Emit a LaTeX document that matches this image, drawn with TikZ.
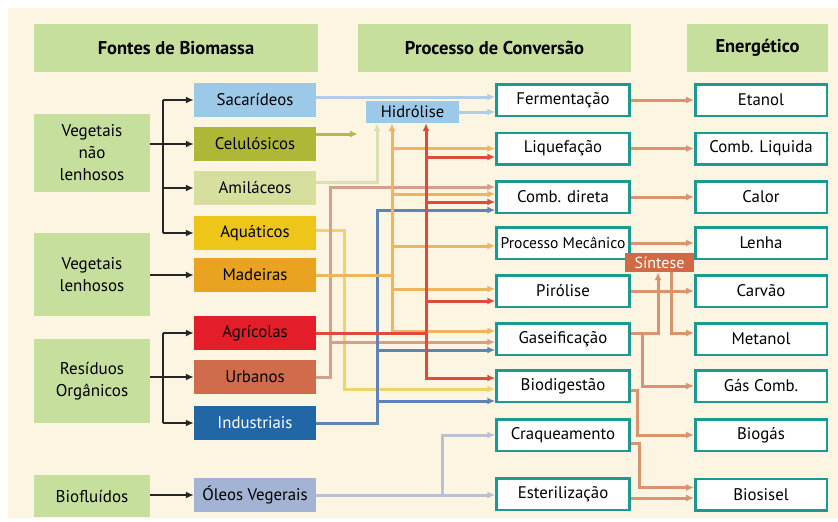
\documentclass[tikz,border=0pt]{standalone}
\usepackage{fontspec}
\setmainfont{PT Sans}
\usetikzlibrary{arrows.meta,positioning}
% box fills
\definecolor{bgCream}{HTML}{FBF5E2}
\definecolor{headGreen}{HTML}{C6DF9C}
\definecolor{tealB}{HTML}{1B9A94}
\definecolor{sacC}{HTML}{9DC9E9}
\definecolor{celC}{HTML}{AEB836}
\definecolor{amiC}{HTML}{D7DF9E}
\definecolor{aquC}{HTML}{EEC519}
\definecolor{madC}{HTML}{EAA321}
\definecolor{agrC}{HTML}{E31E2A}
\definecolor{urbC}{HTML}{D06C4B}
\definecolor{indC}{HTML}{2167A6}
\definecolor{oleC}{HTML}{A3B3D3}
\definecolor{sinC}{HTML}{D06A45}
% connector colours
\definecolor{sacL}{HTML}{AFCDE6}
\definecolor{celL}{HTML}{B5BA4E}
\definecolor{amiL}{HTML}{DEDFB0}
\definecolor{aquL}{HTML}{F1D36E}
\definecolor{madL}{HTML}{EDB561}
\definecolor{agrL}{HTML}{DE4A3E}
\definecolor{urbL}{HTML}{D4A08A}
\definecolor{indL}{HTML}{5F83B6}
\definecolor{oleL}{HTML}{BAC0D6}
\definecolor{conL}{HTML}{D9936F}
\newcommand{\boxfont}{\fontsize{16.8}{19}\selectfont}
\tikzset{
  head/.style={fill=headGreen, minimum height=48pt, inner sep=0pt,
    font=\bfseries\fontsize{18.5}{21}\selectfont},
  group/.style={fill=headGreen, minimum width=116pt, inner sep=0pt,
    align=center, font=\fontsize{17}{22}\selectfont},
  srcbox/.style={minimum width=122pt, minimum height=34pt, inner sep=0pt,
    font=\boxfont},
  convbox/.style={draw=tealB, line width=2.5pt, fill=white,
    minimum width=133pt, minimum height=31.5pt, inner sep=0pt, font=\boxfont},
  link/.style={line width=3pt, -{Latex[length=8pt,width=7pt]}},
  plain/.style={line width=3pt},
  twoway/.style={line width=3pt, {Latex[length=8pt,width=7pt]}-{Latex[length=8pt,width=7pt]}},
  blk/.style={line width=2.8pt, black!85, -{Latex[length=8pt,width=7pt]}},
}

\begin{document}
\begin{tikzpicture}[x=1pt,y=-1pt]
  \useasboundingbox (0,0) rectangle (838,522);
  \fill[bgCream] (8,8) rectangle (838,518);
  % column headers
  \node[head, minimum width=284pt] (hFontes) at (176,48) {Fontes de Biomassa};
  \node[head, minimum width=273pt] (hProc) at (494.5,48) {Processo de Conversão};
  \node[head, minimum width=141pt] (hEner) at (757.5,48) {Energético};
  % biomass groups
  \node[group, minimum height=78pt] (vnl) at (92,153) {Vegetais\\não\\lenhosos};
  \node[group, minimum height=83pt] (vl) at (92,274.5) {Vegetais\\lenhosos};
  \node[group, minimum height=84pt] (res) at (92,381) {Resíduos\\Orgânicos};
  \node[group, minimum height=42pt] (bfl) at (92,496) {Biofluídos};
  % sources
  \node[srcbox, fill=sacC] (sac) at (255,100) {Sacarídeos};
  \node[srcbox, fill=celC] (cel) at (255,144) {Celulósicos};
  \node[srcbox, fill=amiC] (ami) at (255,188) {Amiláceos};
  \node[srcbox, fill=aquC] (aqu) at (255,233) {Aquáticos};
  \node[srcbox, fill=madC] (mad) at (255,275) {Madeiras};
  \node[srcbox, fill=agrC] (agr) at (255,333) {Agrícolas};
  \node[srcbox, fill=urbC] (urb) at (255,377) {Urbanos};
  \node[srcbox, fill=indC, text=white] (ind) at (255,423) {Industriais};
  \node[srcbox, fill=oleC] (ole) at (255,495) {Óleos Vegerais};
  % conversion processes
  \foreach \n/\y/\t in {fer/100/Fermentação, liq/148.5/Liquefação,
      cmb/197/Comb. direta, pir/291/Pirólise, gas/339/Gaseificação,
      bio/386/Biodigestão, cra/435/Craqueamento, est/494/Esterilização}
    \node[convbox] (\n) at (563,\y) {\t};
  \node[convbox, font=\fontsize{15.6}{18}\selectfont] (mec) at (563,243) {Processo Mecânico};
  % energy products
  \foreach \n/\y/\t in {eta/100/Etanol, cli/148.5/Comb. Liquida, cal/197/Calor,
      len/243/Lenha, car/291/Carvão, met/339/Metanol, gcb/386/Gás Comb.,
      bgs/435/Biogás, bsl/494.5/Biosisel}
    \node[convbox, minimum width=131.5pt] (\n) at (761,\y) {\t};
  \node[fill=sacC, minimum width=93pt, minimum height=22pt, inner sep=0pt,
    font=\fontsize{16.5}{19}\selectfont] (hid) at (412.5,112) {Hidrólise};
  \node[fill=sinC, text=white, minimum width=69pt, minimum height=19pt,
    inner sep=0pt, font=\fontsize{16}{18}\selectfont] (sin) at (659.5,262.5) {Síntese};
  % rails
  \coordinate (vjoin) at (163,0);
  \coordinate (railU) at (330,0);
  \coordinate (railA) at (344,0);
  \coordinate (railI) at (377,0);
  \coordinate (railM) at (392,0);
  \coordinate (railR) at (426,0);
  \coordinate (railO) at (442,0);
  \coordinate (railB) at (637,0);
  \coordinate (railC) at (639,0);
  \coordinate (railG) at (642,0);
  \coordinate (railS) at (658,0);
  \coordinate (railT) at (671,0);
  \coordinate (celEnd) at (358,134);
  % groups -> sources
  \draw[blk] (vnl.east |- cel) -- (cel.west);
  \draw[line width=2.8pt, black!85] (vjoin |- sac) -- (vjoin |- aqu);
  \foreach \s in {sac,ami,aqu} \draw[blk] (vjoin |- \s) -- (\s.west);
  \draw[blk] (vl.east |- mad) -- (mad.west);
  \draw[blk] (res.east |- urb) -- (urb.west);
  \draw[line width=2.8pt, black!85] (vjoin |- agr) -- (vjoin |- ind);
  \foreach \s in {agr,ind} \draw[blk] (vjoin |- \s) -- (\s.west);
  \draw[blk] (bfl.east |- ole) -- (ole.west);
  % sources -> processes
  \draw[link, sacL] ([yshift=3pt]sac.east) -- ([yshift=3pt]sac.east -| fer.west);
  \draw[link, sacL] (hid.east) -- (hid.east -| fer.west);
  \draw[link, celL] ([yshift=10pt]cel.east) -- (celEnd);
  \draw[link, amiL] ([yshift=6pt]ami.east) -| (railI |- hid.south);
  \draw[link, aquL] ([yshift=3pt]aqu.east) -| ([yshift=-3pt]bio.west -| railA) -- ([yshift=-3pt]bio.west);
  \draw[link, urbL] (urb.east) -| ([yshift=10pt]cmb.west -| railU) -- ([yshift=10pt]cmb.west);
  \draw[link, urbL] ([yshift=-3pt]gas.west -| railU) -- ([yshift=-3pt]gas.west);
  \draw[link, indL] (ind.east) -| ([yshift=-13pt]cmb.west -| railI) -- ([yshift=-13pt]cmb.west);
  \foreach \t/\d in {gas/-11, bio/-15}
    \draw[link, indL] ([yshift=\d pt]\t.west -| railI) -- ([yshift=\d pt]\t.west);
  \draw[plain, madL] (mad.east) -- (mad.east -| railM);
  \draw[twoway, madL] (railM |- hid.south) -- ([yshift=8pt]gas.west -| railM) -- ([yshift=8pt]gas.west);
  \foreach \t/\d in {liq/0, cmb/3, mec/-3, pir/2}
    \draw[link, madL] ([yshift=\d pt]\t.west -| railM) -- ([yshift=\d pt]\t.west);
  \draw[plain, agrL] (agr.east) -- (agr.east -| railR);
  \draw[twoway, agrL] (railR |- hid.south) -- ([yshift=8pt]bio.west -| railR) -- ([yshift=8pt]bio.west);
  \foreach \t/\d in {liq/-8.5, cmb/-5, pir/-10}
    \draw[link, agrL] ([yshift=\d pt]\t.west -| railR) -- ([yshift=\d pt]\t.west);
  \draw[link, oleL] (ole.east) -- (ole.east -| est.west);
  \draw[link, oleL] (ole.east -| railO) |- (cra.west);
  % processes -> products
  \foreach \a/\b in {fer/eta, liq/cli, cmb/cal, mec/len, pir/car}
    \draw[link, conL] (\a.east) -- (\b.west);
  \draw[link, conL] ([yshift=6pt]gas.east) -| (railS |- sin.south);
  \draw[link, conL] (railT |- sin.south) |- ([yshift=6pt]met.west);
  \draw[link, conL] ([yshift=6pt]gas.east -| railG) |- (gcb.west);
  \draw[link, conL] ([yshift=-4pt]bio.east) -- ([yshift=-4pt]bio.east -| railB) |- (bgs.west);
  \draw[link, conL] ([yshift=-8pt]cra.east) -- ([yshift=-8pt]cra.east -| railC) |- ([yshift=7pt]bsl.west);
  \draw[link, conL] ([yshift=-4pt]est.east) -- ([yshift=-4pt]est.east -| bsl.west);
\end{tikzpicture}
\end{document}
